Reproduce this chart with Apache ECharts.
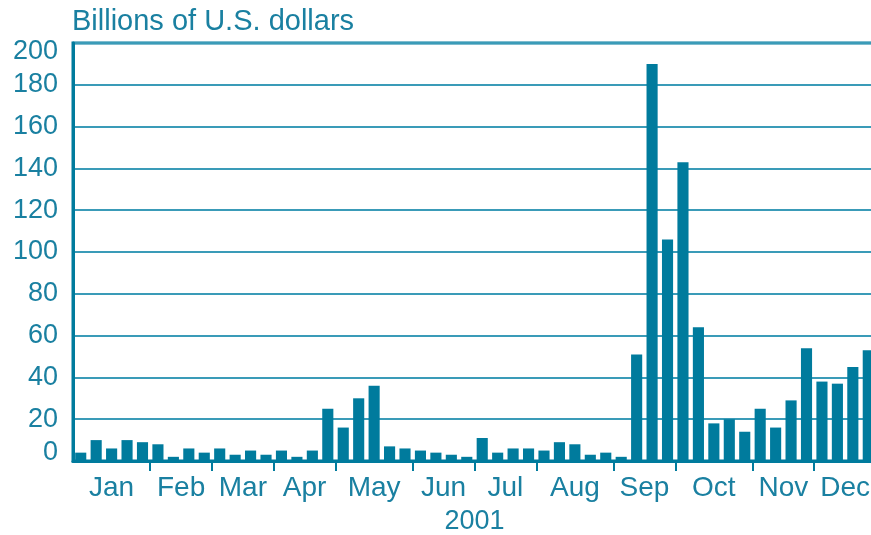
<!DOCTYPE html>
<html>
<head>
<meta charset="utf-8">
<script src="https://cdn.jsdelivr.net/npm/echarts@6/dist/echarts.min.js"></script>
<style>
  html, body { margin: 0; padding: 0; background: #fff; }
  #chart { width: 871px; height: 535px; }
</style>
</head>
<body>
<div id="chart"></div>
<script>
// weekly values, 2001 (billions of U.S. dollars)
const months = ['Jan', 'Feb', 'Mar', 'Apr', 'May', 'Jun', 'Jul', 'Aug', 'Sep', 'Oct', 'Nov', 'Dec'];
const weeksPerMonth = [5, 4, 4, 4, 5, 4, 4, 5, 4, 5, 4, 4];
const weeklyValues = [
  4, 10, 6, 10, 9,
  8, 2, 6, 4,
  6, 3, 5, 3,
  5, 2, 5, 25,
  16, 30, 36, 7, 6,
  5, 4, 3, 2,
  11, 4, 6, 6,
  5, 9, 8, 3, 4,
  2, 51, 190, 106,
  143, 64, 18, 20, 14,
  25, 16, 29, 54,
  38, 37, 45, 53
];
const yTicks = [0, 20, 40, 60, 80, 100, 120, 140, 160, 180, 200];
const yearLabel = '2001';
const yTitle = 'Billions of U.S. dollars';

const blue = '#007b9d';
const textBlue = '#1a80a1';
const gridBlue = '#3a9bb8';
const font = '"Liberation Sans", Arial, sans-serif';

// week categories, month boundaries (ticks) and month centres (labels), in weeks
let weeks = [];
let monthTicks = [];
let monthCentres = [];
let centreName = {};
let start = 0;
months.forEach((m, i) => {
  const n = weeksPerMonth[i];
  for (let k = 0; k < n; k++) weeks.push(m + ' ' + (k + 1));
  if (start > 0) monthTicks.push(start);
  const c = start + n / 2;
  monthCentres.push(c);
  centreName[c] = m;
  start += n;
});

const yMin = yTicks[0];
const yMax = yTicks[yTicks.length - 1];

const chart = echarts.init(document.getElementById('chart'), null, { renderer: 'canvas' });
chart.setOption({
  animation: false,
  title: {
    text: yTitle,
    left: 67,
    top: 2,
    textStyle: { color: textBlue, fontSize: 29, fontWeight: 'normal', fontFamily: font }
  },
  grid: {
    left: 73, right: -5, top: 43, bottom: 74,
    outerBoundsMode: 'none',
    show: true, borderColor: blue, borderWidth: 3, backgroundColor: 'transparent'
  },
  xAxis: [{
    // bars
    type: 'category',
    data: weeks,
    position: 'bottom',
    axisLine: { lineStyle: { color: blue, width: 3 } },
    axisTick: { show: false },
    axisLabel: { show: false }
  }, {
    // month ticks and labels, measured in weeks
    type: 'value',
    position: 'bottom',
    min: 0,
    max: weeks.length,
    name: yearLabel,
    nameLocation: 'middle',
    nameGap: 47,
    nameTextStyle: { color: textBlue, fontSize: 27, fontFamily: font },
    axisLine: { show: false },
    splitLine: { show: false },
    axisTick: {
      show: true,
      length: 10,
      lineStyle: { color: blue, width: 2 },
      customValues: monthTicks
    },
    axisLabel: {
      margin: 13,
      color: textBlue,
      fontSize: 28,
      fontFamily: font,
      customValues: monthCentres,
      formatter: (v) => centreName[v] || ''
    }
  }],
  yAxis: {
    type: 'value',
    min: yMin,
    max: yMax,
    interval: 20,
    axisLine: { show: true, lineStyle: { color: blue, width: 3 } },
    axisTick: { show: false },
    splitLine: { lineStyle: { color: gridBlue, width: 2 } },
    axisLabel: {
      margin: 15,
      color: textBlue,
      fontSize: 27,
      fontFamily: font,
      formatter: (v) => v === yMin ? '{lo|' + v + '}' : v === yMax ? '{hi|' + v + '}' : String(v),
      rich: {
        lo: { fontSize: 27, color: textBlue, fontFamily: font, padding: [0, 0, 16, 0] },
        hi: { fontSize: 27, color: textBlue, fontFamily: font, padding: [18, 0, 0, 0] }
      }
    }
  },
  series: [{
    type: 'bar',
    xAxisIndex: 0,
    data: weeklyValues,
    barWidth: '72%',
    itemStyle: { color: blue }
  }]
});
</script>
</body>
</html>
